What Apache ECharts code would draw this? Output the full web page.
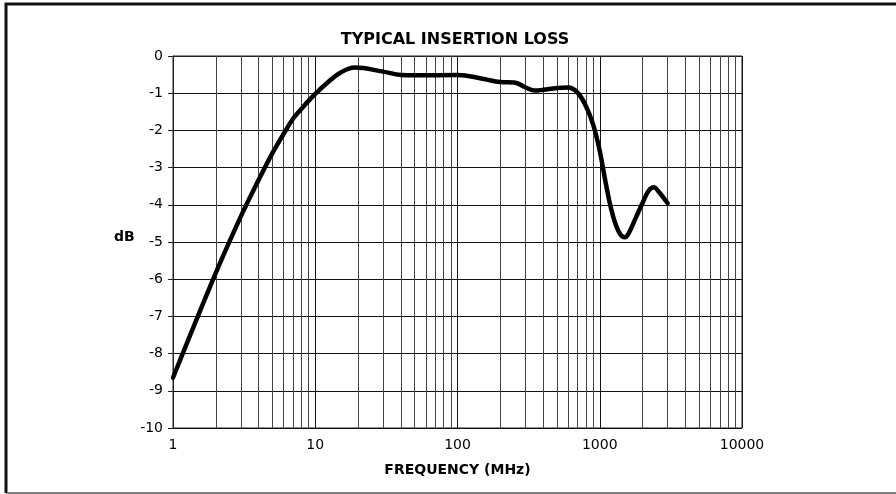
<!DOCTYPE html>
<html>
<head>
<meta charset="utf-8">
<script src="https://cdn.jsdelivr.net/npm/echarts@6/dist/echarts.min.js"></script>
<style>
  html, body { margin: 0; padding: 0; background: #fff; }
  #main { width: 896px; height: 494px; }
</style>
</head>
<body>
<div id="main"></div>
<script>
// frequency (MHz) and insertion loss (dB)
var freq = [1, 2, 3, 4, 5, 6, 7, 8, 9, 10, 12, 15, 19, 30, 40, 50, 100, 150, 200, 250, 300, 350, 400, 500, 600, 700, 800, 900, 1000, 1100, 1200, 1300, 1400, 1500, 1600, 1800, 2000, 2200, 2400, 2600, 3000]
var loss = [-8.65, -5.83, -4.31, -3.33, -2.61, -2.09, -1.68, -1.42, -1.2, -1.02, -0.74, -0.45, -0.31, -0.42, -0.51, -0.52, -0.51, -0.61, -0.7, -0.71, -0.84, -0.93, -0.91, -0.86, -0.85, -0.99, -1.35, -1.85, -2.55, -3.4, -4.1, -4.55, -4.8, -4.87, -4.76, -4.33, -3.95, -3.63, -3.53, -3.65, -3.96]

// minor log grid lines between decades
var minorLines = []
;[1, 10, 100, 1000].forEach(function (d) {
  for (var k = 2; k <= 9; k++) minorLines.push(d * k)
})

var chartDom = document.getElementById('main')
var myChart = echarts.init(chartDom)
var option

var labelFont = '"DejaVu Sans", sans-serif'

option = {
  animation: false,
  title: {
    text: 'TYPICAL INSERTION LOSS',
    left: 450,
    top: 27,
    textAlign: 'center',
    textStyle: { fontFamily: labelFont, fontWeight: 'bold', fontSize: 16, color: '#000' }
  },
  graphic: [
    {
      type: 'polyline',
      shape: { points: [[1000, 4], [6, 4], [6, 493]] },
      style: { fill: null, stroke: '#111', lineWidth: 3 },
      silent: true
    },
    {
      type: 'polyline',
      shape: { points: [[6, 493], [1000, 493]] },
      style: { fill: null, stroke: '#555', lineWidth: 1.5 },
      silent: true
    },
    {
      type: 'text',
      left: 114,
      top: 230,
      style: { text: 'dB', font: 'bold 14px "DejaVu Sans", sans-serif', fill: '#000' }
    }
  ],
  grid: {
    left: 173,
    top: 56,
    right: 154,
    bottom: 66,
    show: true,
    borderColor: '#222',
    borderWidth: 1
  },
  xAxis: {
    type: 'log',
    logBase: 10,
    min: 1,
    max: 10000,
    name: 'FREQUENCY (MHz)',
    nameLocation: 'middle',
    nameGap: 35,
    nameTextStyle: { fontFamily: labelFont, fontWeight: 'bold', fontSize: 14, color: '#000' },
    axisLine: { show: true, lineStyle: { color: '#222', width: 1 } },
    axisTick: { show: false },
    axisLabel: {
      fontFamily: labelFont, fontSize: 14, color: '#000', margin: 10,
      formatter: function (v) { return String(Math.round(v)) }
    },
    splitLine: { show: true, lineStyle: { color: '#111', width: 1 } }
  },
  yAxis: {
    type: 'value',
    min: -10,
    max: 0,
    interval: 1,
    axisLine: { show: true, lineStyle: { color: '#222', width: 1 } },
    axisTick: { show: true, length: 5, lineStyle: { color: '#222' } },
    axisLabel: { fontFamily: labelFont, fontSize: 14, color: '#000', margin: 10 },
    splitLine: { show: true, lineStyle: { color: '#111', width: 1 } }
  },
  series: [
    {
      type: 'line',
      data: freq.map(function (f, i) { return [f, loss[i]] }),
      smooth: 0.4,
      symbol: 'none',
      lineStyle: { color: '#000', width: 4.5, cap: 'round', join: 'round' },
      z: 5,
      markLine: {
        silent: true,
        symbol: 'none',
        label: { show: false },
        lineStyle: { color: '#444', width: 1, type: 'solid' },
        data: minorLines.map(function (v) { return { xAxis: v } }),
        z: 1
      }
    }
  ]
}

option && myChart.setOption(option)
</script>
</body>
</html>
